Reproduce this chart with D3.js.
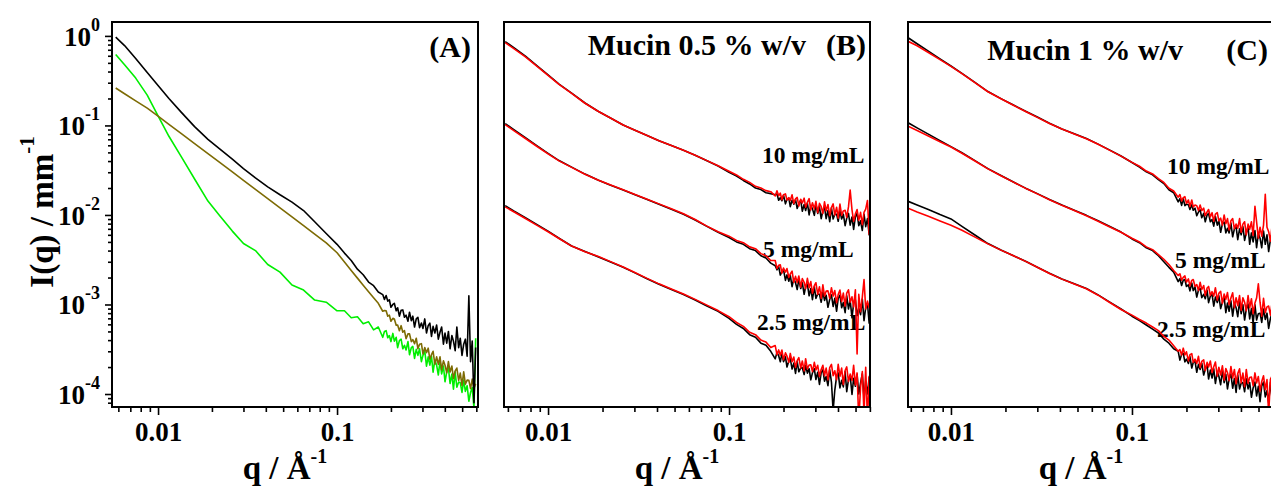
<!DOCTYPE html>
<html><head><meta charset="utf-8">
<script src="https://cdn.jsdelivr.net/npm/d3@7"></script>
<style>
body{margin:0;background:#fff}
svg{display:block}
text{font-family:"Liberation Serif","Times New Roman",serif;font-weight:bold;fill:#000}
</style>
</head><body>
<svg id="chart" width="1271" height="492"></svg>
<script>
// ---------- data (q in 1/Å, intensities in 1/mm) ----------
const q = [0.0058,0.0065,0.0075,0.0087,0.01,0.0115,0.0135,0.016,0.019,0.022,0.026,0.03,0.035,0.041,0.048,0.056,0.065,0.075,0.087,0.1,0.11,0.12,0.13,0.14,0.15,0.16,0.17,
0.18,0.184,0.188,0.192,0.196,0.2,0.205,0.209,0.214,0.218,0.223,0.228,0.233,0.238,0.243,0.249,0.254,0.26,0.265,0.271,0.277,0.283,0.289,0.296,0.302,0.309,0.316,0.323,0.33,0.337,0.344,0.352,0.36,0.368,0.376,0.384,0.393,0.401,0.41,0.419,0.428,0.438,0.447,0.457,0.467,0.478,0.488,0.499,0.51,0.521,0.533,0.545,0.557,0.569,0.582,0.595];

// Panel A
const A_black = [0.97,0.78,0.56,0.39,0.28,0.20,0.14,0.097,0.070,0.055,0.042,0.033,0.026,0.0206,0.0168,0.0139,0.0112,0.0084,0.0062,0.0047,0.00375,0.0031,0.00248,0.00215,0.00178,0.00162,0.00138,
1.29e-3,1.14e-3,1.26e-3,1.09e-3,1.13e-3,9.3e-4,1.0e-3,1.03e-3,8.5e-4,9.2e-4,7.4e-4,8.6e-4,8.7e-4,7.2e-4,7.6e-4,6.5e-4,8.2e-4,6.6e-4,7.4e-4,5.6e-4,6.9e-4,7.2e-4,5.5e-4,6.2e-4,5.4e-4,6.9e-4,4.8e-4,5.8e-4,6.2e-4,4.4e-4,5.7e-4,4.8e-4,5.9e-4,4.1e-4,4.9e-4,5.6e-4,3.6e-4,4.8e-4,3.7e-4,5.0e-4,3.2e-4,4.5e-4,3.9e-4,3.05e-4,5.6e-4,3.3e-4,4.2e-4,2.7e-4,3.6e-4,4.1e-4,2.65e-4,1.25e-3,2.3e-4,3.9e-4,8e-5,3.3e-4];
const A_olive = [0.262,0.226,0.188,0.156,0.127,0.103,0.081,0.0628,0.0484,0.0389,0.0302,0.0243,0.0193,0.0152,0.012,0.0095,0.00759,0.0061,0.00488,0.00378,0.00299,0.0024,0.00197,0.00164,0.00139,0.00119,0.00103,
8.4e-4,8.55e-4,8.5e-4,7.4e-4,7.6e-4,6.5e-4,7.0e-4,6.9e-4,5.85e-4,5.9e-4,5.1e-4,5.8e-4,4.9e-4,5.1e-4,4.15e-4,4.7e-4,4.7e-4,3.85e-4,4.05e-4,3.65e-4,4.2e-4,3.2e-4,3.6e-4,3.65e-4,2.8e-4,3.3e-4,2.9e-4,3.25e-4,2.45e-4,2.75e-4,3.0e-4,2.15e-4,2.6e-4,2.15e-4,2.6e-4,1.86e-4,2.35e-4,2.1e-4,1.73e-4,2.3e-4,1.76e-4,2.05e-4,1.49e-4,1.81e-4,1.95e-4,1.42e-4,1.71e-4,1.25e-4,1.77e-4,1.29e-4,1.43e-4,1.42e-4,1.15e-4,1.47e-4,1.16e-4,1.3e-4];
const A_green = [0.62,0.475,0.338,0.218,0.128,0.0757,0.0446,0.0252,0.0143,0.0099,0.0066,0.0048,0.0040,0.0028,0.0023,0.00165,0.00145,0.00112,0.00106,8.5e-4,8.5e-4,7.1e-4,7.3e-4,6.1e-4,6.4e-4,5.2e-4,5.6e-4,
4.3e-4,5.0e-4,5.1e-4,4.25e-4,4.5e-4,3.85e-4,4.75e-4,3.9e-4,4.3e-4,3.3e-4,3.95e-4,4.1e-4,3.2e-4,3.5e-4,3.1e-4,3.85e-4,2.75e-4,3.3e-4,3.4e-4,2.5e-4,3.15e-4,2.7e-4,3.2e-4,2.3e-4,2.7e-4,3.05e-4,2.05e-4,2.6e-4,2.1e-4,2.65e-4,1.75e-4,2.4e-4,2.1e-4,1.63e-4,2.35e-4,1.68e-4,2.05e-4,1.37e-4,1.77e-4,1.96e-4,1.31e-4,1.67e-4,1.13e-4,1.77e-4,1.19e-4,1.36e-4,1.34e-4,1.04e-4,1.43e-4,1.07e-4,1.24e-4,8.3e-5,1.04e-4,1.18e-4,7e-5,4.2e-4];

// Panel B (Mucin 0.5 % w/v)
const B10_black = [0.865,0.735,0.595,0.462,0.366,0.29,0.229,0.178,0.143,0.122,0.101,0.089,0.0777,0.0675,0.0597,0.0527,0.0465,0.0405,0.0352,0.0300,0.0272,0.0243,0.0222,0.0200,0.0192,0.0177,0.0173,
0.0168,0.0172,0.0146,0.0156,0.0144,0.0166,0.0133,0.015,0.0154,0.0124,0.0146,0.0132,0.0149,0.0118,0.0133,0.0146,0.011,0.0131,0.0112,0.0136,0.01,0.0128,0.0117,0.0099,0.0132,0.0104,0.0123,0.0091,0.0111,0.0123,0.0091,0.0112,0.0084,0.012,0.009,0.0102,0.0102,0.0085,0.0111,0.009,0.0102,0.0076,0.0092,0.0104,0.0077,0.0095,0.0069,0.0095,0.0104,0.0076,0.0086,0.0067,0.0102,0.0074,0.0091,0.0059];
const B10_red = [0.84,0.716,0.583,0.456,0.362,0.288,0.228,0.177,0.143,0.122,0.101,0.089,0.0777,0.0675,0.0597,0.0527,0.0465,0.0407,0.0355,0.0308,0.0280,0.0250,0.0231,0.0209,0.0200,0.0187,0.0182,
0.0163,0.0186,0.0164,0.0175,0.0148,0.0168,0.0172,0.0147,0.0156,0.0145,0.0168,0.0134,0.0151,0.0157,0.0126,0.015,0.0136,0.0154,0.0122,0.0138,0.0152,0.0114,0.0137,0.0117,0.0142,0.0106,0.0135,0.0124,0.0104,0.014,0.0111,0.0131,0.0098,0.0121,0.0133,0.00995,0.0122,0.0092,0.0132,0.0099,0.0111,0.0113,0.0094,0.0123,0.019,0.0114,0.0085,0.0103,0.0115,0.0087,0.0107,0.0078,0.0107,0.0116,0.0145,0.006];
const B5_black = [0.105,0.089,0.073,0.059,0.0487,0.0405,0.0342,0.0286,0.0244,0.0216,0.019,0.0169,0.015,0.0132,0.0116,0.0102,0.0088,0.0075,0.0064,0.0056,0.0050,0.0047,0.0042,0.0040,0.0035,0.0033,0.0029,
2.71e-3,2.44e-3,2.66e-3,2.13e-3,2.31e-3,2.46e-3,1.86e-3,2.14e-3,1.82e-3,2.12e-3,1.58e-3,1.95e-3,1.75e-3,1.47e-3,1.91e-3,1.51e-3,1.75e-3,1.3e-3,1.57e-3,1.69e-3,1.25e-3,1.51e-3,1.13e-3,1.58e-3,1.17e-3,1.31e-3,1.3e-3,1.06e-3,1.38e-3,1.11e-3,1.27e-3,9.3e-4,1.14e-3,1.28e-3,9.5e-4,1.17e-3,8.4e-4,1.17e-3,1.27e-3,9.2e-4,1.05e-3,8.1e-4,1.25e-3,8.9e-4,1.11e-3,7.1e-4,1.03e-3,1.13e-3,7.5e-4,9.1e-4,7.7e-4,1.15e-3,6.6e-4,9.2e-4,1.02e-3,6.1e-4];
const B5_red = [0.102,0.0869,0.0714,0.0582,0.0482,0.0402,0.034,0.0285,0.0244,0.0217,0.0191,0.017,0.0151,0.0133,0.0117,0.0103,0.0089,0.00755,0.0065,0.0058,0.0052,0.0049,0.0044,0.0042,0.0037,0.0035,0.0031,
3.1e-3,2.52e-3,2.74e-3,2.77e-3,2.24e-3,2.55e-3,2.3e-3,2.52e-3,2.0e-3,2.19e-3,2.36e-3,1.77e-3,2.06e-3,1.76e-3,2.08e-3,1.56e-3,1.95e-3,1.77e-3,1.5e-3,1.96e-3,1.54e-3,1.8e-3,1.33e-3,1.62e-3,1.75e-3,1.3e-3,1.58e-3,1.17e-3,1.66e-3,1.24e-3,1.41e-3,1.42e-3,1.17e-3,1.54e-3,1.24e-3,1.43e-3,1.05e-3,1.29e-3,1.45e-3,1.08e-3,1.34e-3,9.6e-4,1.34e-3,1.46e-3,1.06e-3,1.22e-3,9.4e-4,1.46e-3,2.8e-4,1.3e-3,8.3e-4,1.21e-3,1.9e-3,8.9e-4,1.09e-3,9.1e-4];
const B25_black = [0.0127,0.011,0.0093,0.0078,0.0066,0.0055,0.0045,0.0039,0.0034,0.003,0.0026,0.00227,0.00195,0.00168,0.00147,0.00129,0.00112,0.00097,0.00084,7.0e-4,6.0e-4,5.4e-4,4.6e-4,4.3e-4,3.7e-4,3.5e-4,3.0e-4,
2.47e-4,2.92e-4,2.67e-4,2.29e-4,2.84e-4,2.3e-4,2.6e-4,2.0e-4,2.33e-4,2.48e-4,1.9e-4,2.21e-4,1.7e-4,2.31e-4,1.77e-4,1.96e-4,1.97e-4,1.65e-4,2.08e-4,1.71e-4,1.92e-4,1.44e-4,1.72e-4,1.91e-4,1.45e-4,1.75e-4,1.28e-4,1.73e-4,1.86e-4,1.39e-4,1.57e-4,1.24e-4,1.86e-4,1.36e-4,6.5e-5,1.1e-4,1.57e-4,1.72e-4,1.17e-4,1.42e-4,1.2e-4,1.78e-4,1.06e-4,1.45e-4,1.61e-4,9.9e-5,1.5e-4,1.22e-4,1.66e-4,1.0e-4,1.33e-4,1.68e-4,9.0e-5,1.38e-4,1.0e-4,1.56e-4];
const B25_red = [0.0123,0.0108,0.00914,0.00766,0.00649,0.00546,0.00449,0.00388,0.00343,0.00303,0.00262,0.00229,0.00197,0.0017,0.00149,0.00131,0.00114,0.00099,0.000855,7.3e-4,6.3e-4,5.7e-4,4.9e-4,4.6e-4,4.0e-4,3.8e-4,3.3e-4,
3.48e-4,2.75e-4,3.11e-4,2.71e-4,3.1e-4,2.41e-4,2.88e-4,2.65e-4,2.26e-4,2.84e-4,2.29e-4,2.59e-4,1.98e-4,2.36e-4,2.55e-4,1.96e-4,2.34e-4,1.81e-4,2.48e-4,1.9e-4,2.11e-4,2.12e-4,1.78e-4,2.26e-4,1.86e-4,2.09e-4,1.57e-4,1.88e-4,2.09e-4,1.6e-4,1.95e-4,1.44e-4,1.97e-4,2.14e-4,1.6e-4,1.82e-4,1.44e-4,2.15e-4,1.58e-4,1.95e-4,1.28e-4,1.83e-4,2.01e-4,1.38e-4,1.67e-4,1.42e-4,2.09e-4,1.26e-4,1.72e-4,5e-5,1.19e-4,1.78e-4,6e-5,1.99e-4,5e-5,1.6e-4];

// Panel C (Mucin 1 % w/v)
const C10_black = [0.953,0.818,0.676,0.555,0.461,0.381,0.304,0.239,0.198,0.17,0.143,0.124,0.106,0.0914,0.0807,0.0714,0.0618,0.0533,0.0456,0.0385,0.0343,0.0303,0.0281,0.0248,0.0224,0.0191,0.0177,
0.014,0.0152,0.0128,0.0152,0.0127,0.0132,0.013,0.0115,0.013,0.0113,0.0119,0.0098,0.0108,0.0114,0.0093,0.0104,0.0084,0.01,0.0104,0.0084,0.0089,0.0075,0.0096,0.0077,0.0086,0.0064,0.008,0.0083,0.0063,0.0071,0.0063,0.0081,0.0057,0.007,0.0074,0.0053,0.007,0.006,0.0074,0.0052,0.0063,0.0073,0.0047,0.0063,0.005,0.0067,0.0043,0.0062,0.0055,0.0043,0.0066,0.0047,0.006,0.0039,0.0053,0.0061];
const C10_red = [0.87,0.776,0.653,0.543,0.457,0.379,0.302,0.238,0.197,0.169,0.142,0.123,0.105,0.091,0.0803,0.0711,0.0615,0.053,0.0454,0.0387,0.0350,0.0309,0.0287,0.0255,0.0231,0.0199,0.0185,
0.0158,0.0169,0.0143,0.0156,0.016,0.0135,0.0147,0.0124,0.0147,0.0123,0.0129,0.0127,0.0112,0.0129,0.0112,0.0119,0.0098,0.0108,0.0115,0.0095,0.0106,0.0085,0.0102,0.0106,0.0086,0.0092,0.0077,0.01,0.008,0.0091,0.0068,0.0086,0.0091,0.007,0.0079,0.0071,0.0091,0.0064,0.0079,0.0084,0.006,0.0079,0.0069,0.0084,0.0059,0.0125,0.0084,0.0055,0.0073,0.0058,0.0077,0.017,0.0073,0.0065,0.0051,0.0078];
const C5_black = [0.107,0.094,0.080,0.0676,0.058,0.0495,0.0407,0.0329,0.0274,0.0235,0.0198,0.0173,0.0149,0.0129,0.0113,0.0099,0.0086,0.00747,0.00644,0.0054,0.0049,0.0043,0.0040,0.0035,0.0030,0.0026,0.0023,
1.8e-3,1.95e-3,1.63e-3,1.87e-3,1.9e-3,1.59e-3,1.66e-3,1.42e-3,1.74e-3,1.43e-3,1.57e-3,1.21e-3,1.45e-3,1.51e-3,1.19e-3,1.3e-3,1.16e-3,1.44e-3,1.05e-3,1.24e-3,1.3e-3,9.6e-4,1.21e-3,1.05e-3,1.25e-3,9.0e-4,1.06e-3,1.21e-3,8.1e-4,1.04e-3,8.4e-4,1.1e-3,7.4e-4,1.03e-3,9.2e-4,7.3e-4,1.09e-3,7.9e-4,9.95e-4,6.7e-4,8.9e-4,1.01e-3,6.9e-4,9.0e-4,6.2e-4,9.9e-4,6.7e-4,7.9e-4,8.0e-4,6.3e-4,8.9e-4,6.8e-4,8.0e-4,5.4e-4,7.0e-4,8.2e-4];
const C5_red = [0.098,0.0877,0.0762,0.0658,0.0574,0.0489,0.0403,0.0327,0.0272,0.0234,0.0197,0.0172,0.0148,0.0128,0.0112,0.0098,0.0085,0.0074,0.0064,0.0055,0.0050,0.0044,0.0041,0.0036,0.0032,0.0028,0.0024,
2.11e-3,2.2e-3,1.87e-3,2.01e-3,2.09e-3,1.78e-3,1.93e-3,1.61e-3,1.86e-3,1.9e-3,1.59e-3,1.67e-3,1.43e-3,1.77e-3,1.47e-3,1.63e-3,1.26e-3,1.53e-3,1.59e-3,1.26e-3,1.39e-3,1.24e-3,1.54e-3,1.12e-3,1.33e-3,1.4e-3,1.03e-3,1.31e-3,1.14e-3,1.36e-3,9.98e-4,1.18e-3,1.35e-3,9.2e-4,1.19e-3,9.7e-4,1.26e-3,8.6e-4,1.19e-3,1.06e-3,8.5e-4,1.26e-3,9.2e-4,1.16e-3,7.9e-4,1.04e-3,1.18e-3,1.7e-3,1.06e-3,7.4e-4,1.17e-3,8.1e-4,9.4e-4,9.6e-4,7.6e-4,1.07e-3];
const C25_black = [0.0142,0.0129,0.0115,0.0101,0.00904,0.00745,0.00601,0.00479,0.00404,0.00353,0.00302,0.00261,0.00223,0.00193,0.0017,0.00151,0.00128,0.00107,0.00089,7.4e-4,6.6e-4,5.9e-4,5.3e-4,4.8e-4,4.1e-4,3.7e-4,3.2e-4,
3.0e-4,2.39e-4,2.77e-4,2.84e-4,2.28e-4,2.45e-4,2.19e-4,2.62e-4,1.95e-4,2.25e-4,2.33e-4,1.75e-4,2.14e-4,1.88e-4,2.21e-4,1.63e-4,1.89e-4,2.12e-4,1.47e-4,1.85e-4,1.51e-4,1.91e-4,1.31e-4,1.77e-4,1.58e-4,1.27e-4,1.82e-4,1.34e-4,1.66e-4,1.14e-4,1.48e-4,1.67e-4,1.16e-4,1.49e-4,1.04e-4,1.64e-4,1.14e-4,1.32e-4,1.34e-4,1.06e-4,1.48e-4,1.14e-4,1.34e-4,9.2e-5,1.17e-4,1.36e-4,9.5e-5,1.22e-4,8.2e-5,1.23e-4,1.36e-4,9.3e-5,1.09e-4,8.0e-5,1.35e-4,8.9e-5];
const C25_red = [0.0119,0.0108,0.00966,0.00857,0.00767,0.00676,0.00569,0.00475,0.00402,0.00352,0.00301,0.0026,0.00222,0.00192,0.00169,0.0015,0.00127,0.00106,0.00088,7.6e-4,6.8e-4,6.2e-4,5.6e-4,5.1e-4,4.4e-4,4.0e-4,3.45e-4,
3.01e-4,3.13e-4,2.73e-4,3.25e-4,2.73e-4,2.96e-4,2.34e-4,2.75e-4,2.82e-4,2.26e-4,2.45e-4,2.19e-4,2.64e-4,1.97e-4,2.31e-4,2.41e-4,1.83e-4,2.26e-4,2.0e-4,2.34e-4,1.74e-4,2.02e-4,2.28e-4,1.58e-4,1.99e-4,1.63e-4,2.07e-4,1.43e-4,1.93e-4,1.73e-4,1.41e-4,2.03e-4,1.51e-4,1.88e-4,1.3e-4,1.69e-4,1.91e-4,1.33e-4,1.71e-4,1.21e-4,1.88e-4,1.32e-4,1.53e-4,1.55e-4,1.24e-4,1.72e-4,1.33e-4,1.57e-4,1.08e-4,1.38e-4,1.6e-4,1.12e-4,1.45e-4,6e-5,1.46e-4,1.61e-4];

// ticks / labels
const xMajorTicks = [0.01, 0.1];
const xMajorLabels = ["0.01", "0.1"];
const xMinorTicks = [0.006,0.007,0.008,0.009,0.02,0.03,0.04,0.05,0.06,0.07,0.08,0.09,0.2,0.3,0.4,0.5,0.6];
const yMajorTicks = [1, 0.1, 0.01, 0.001, 0.0001];
const yExponents = ["0", "-1", "-2", "-3", "-4"];
const yMinorTicks = [8e-5,9e-5,2e-4,3e-4,4e-4,5e-4,6e-4,7e-4,8e-4,9e-4,2e-3,3e-3,4e-3,5e-3,6e-3,7e-3,8e-3,9e-3,0.02,0.03,0.04,0.05,0.06,0.07,0.08,0.09,0.2,0.3,0.4,0.5,0.6,0.7,0.8,0.9];
const concLabels = ["10 mg/mL", "5 mg/mL", "2.5 mg/mL"];
const titlesB = ["Mucin 0.5 % w/v", "(B)"];
const titlesC = ["Mucin 1 % w/v", "(C)"];

// ---------- layout ----------
const svg = d3.select("#chart");
const TOP = 22, BOTTOM = 407, PW = 366;
const y = d3.scaleLog().domain([7.16e-5, 1.43]).range([BOTTOM, TOP]);
const BLACK = "#000", RED = "#ff0000", GREEN = "#00ee00", OLIVE = "#7d6b04";

const panels = [
  { left: 112, xd: [0.00553, 0.613], yAxis: true,
    series: [[A_green, GREEN], [A_olive, OLIVE], [A_black, BLACK]],
    titles: [{ t: "(A)", x: 471, y: 57 }], conc: [] },
  { left: 504, xd: [0.00571, 0.601], yAxis: false,
    series: [[B10_black, BLACK], [B10_red, RED], [B5_black, BLACK], [B5_red, RED], [B25_black, BLACK], [B25_red, RED]],
    titles: [{ t: titlesB[0], x: 806, y: 55 }, { t: titlesB[1], x: 866, y: 55 }],
    conc: [[concLabels[0], 762, 163], [concLabels[1], 763, 257], [concLabels[2], 757, 330]] },
  { left: 908, xd: [0.00579, 0.609], yAxis: false,
    series: [[C10_black, BLACK], [C10_red, RED], [C5_black, BLACK], [C5_red, RED], [C25_black, BLACK], [C25_red, RED]],
    titles: [{ t: titlesC[0], x: 1183, y: 60 }, { t: titlesC[1], x: 1268, y: 60 }],
    conc: [[concLabels[0], 1167, 174], [concLabels[1], 1175, 268], [concLabels[2], 1157, 337]] }
];

const bad = [];
panels.forEach((p, pi) => {
  const x = d3.scaleLog().domain(p.xd).range([p.left, p.left + PW]);
  const g = svg.append("g");

  const cid = "clip" + pi;
  svg.append("defs").append("clipPath").attr("id", cid)
    .append("rect").attr("x", p.left).attr("y", TOP).attr("width", PW).attr("height", BOTTOM - TOP);

  // x axis ticks
  const xMin = g.append("g").attr("transform", `translate(0,${BOTTOM})`)
    .call(d3.axisBottom(x).tickValues(xMinorTicks).tickSize(5).tickFormat(""));
  const xMaj = g.append("g").attr("transform", `translate(0,${BOTTOM})`)
    .call(d3.axisBottom(x).tickValues(xMajorTicks).tickSize(8).tickPadding(7)
      .tickFormat((d, i) => xMajorLabels[i]));
  [xMin, xMaj].forEach(a => { a.select(".domain").remove(); a.selectAll("line").attr("stroke", "#000").attr("stroke-width", 1.6); });
  xMaj.selectAll("text").attr("font-size", 27).attr("font-family", null).attr("fill", "#000");

  // y axis (A only)
  if (p.yAxis) {
    const yMin = g.append("g").attr("transform", `translate(${p.left},0)`)
      .call(d3.axisLeft(y).tickValues(yMinorTicks).tickSize(4).tickFormat(""));
    const yMaj = g.append("g").attr("transform", `translate(${p.left},0)`)
      .call(d3.axisLeft(y).tickValues(yMajorTicks).tickSize(7).tickFormat(""));
    [yMin, yMaj].forEach(a => { a.select(".domain").remove(); a.selectAll("line").attr("stroke", "#000").attr("stroke-width", 1.6); });
    yMajorTicks.forEach((v, i) => {
      const t = g.append("text").attr("x", p.left - 12).attr("y", y(v) + 10).attr("text-anchor", "end");
      t.append("tspan").attr("font-size", 27).text("10");
      t.append("tspan").attr("font-size", 18).attr("dy", -15).text(yExponents[i]);
    });
    const yl = g.append("text").attr("transform", `translate(53,212) rotate(-90)`).attr("text-anchor", "middle");
    yl.append("tspan").attr("font-size", 33).text("I(q) / mm");
    yl.append("tspan").attr("font-size", 21).attr("dy", -19).text("-1");
  }

  // x label
  const cx = p.left + PW / 2 - 10;
  const xl = g.append("text").attr("x", cx).attr("y", 479).attr("text-anchor", "middle");
  xl.append("tspan").attr("font-size", 33).text("q / Å");
  xl.append("tspan").attr("font-size", 20).attr("dy", -16).text("-1");

  // titles & concentration labels
  p.titles.forEach(t => g.append("text").attr("x", t.x).attr("y", t.y).attr("text-anchor", "end")
    .attr("font-size", 30).text(t.t));
  p.conc.forEach(c => g.append("text").attr("x", c[1]).attr("y", c[2]).attr("font-size", 23.5).text(c[0]));

  // curves
  const line = d3.line().x(d => x(d[0])).y(d => y(d[1]));
  const lg = g.append("g").attr("clip-path", `url(#${cid})`);
  p.series.forEach((s, si) => {
    if (s[0].length !== q.length) bad.push(`panel ${pi} series ${si}: ${s[0].length}`);
    lg.append("path").datum(d3.zip(q, s[0])).attr("d", line)
      .attr("fill", "none").attr("stroke", s[1]).attr("stroke-width", 1.6).attr("stroke-linejoin", "round");
  });

  // frame
  g.append("rect").attr("x", p.left).attr("y", TOP).attr("width", PW).attr("height", BOTTOM - TOP)
    .attr("fill", "none").attr("stroke", "#000").attr("stroke-width", 2);
});
if (bad.length) throw new Error("length mismatch (q=" + q.length + "): " + bad.join("; "));
</script>
</body></html>
